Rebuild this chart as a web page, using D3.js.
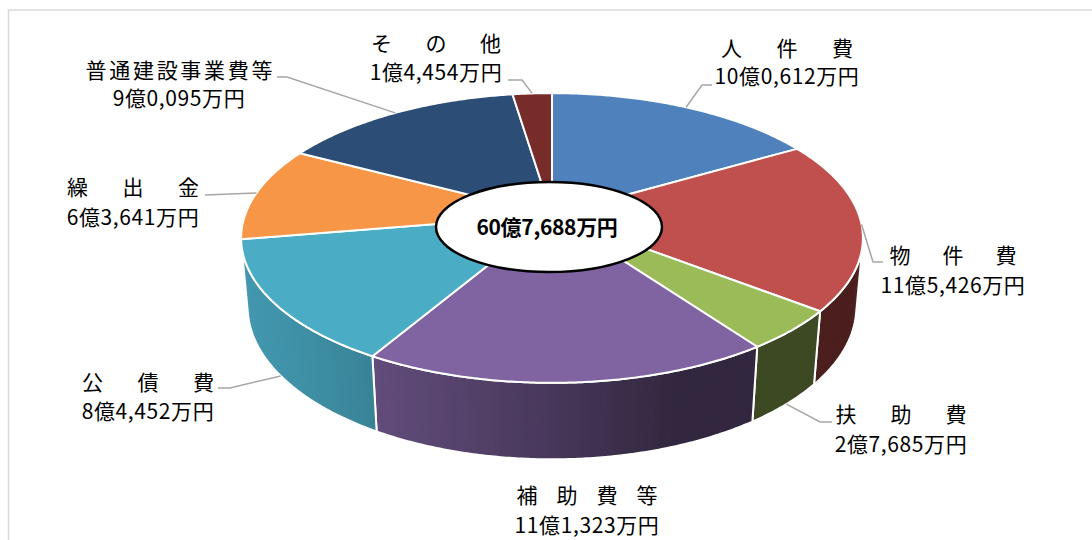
<!DOCTYPE html>
<html>
<head>
<meta charset="utf-8">
<script src="https://cdn.jsdelivr.net/npm/d3@7"></script>
<style>
  body { margin: 0; background: #fff; }
  text { font-family: "Noto Sans CJK JP", "Noto Sans", sans-serif; fill: #000; }
</style>
</head>
<body>
<div class="chart"></div>
<script>

// 歳出（万円）
const categories = ["人件費", "物件費", "扶助費", "補助費等", "公債費", "繰出金", "普通建設事業費等", "その他"];
const values = [100612, 115426, 27685, 111323, 84452, 63641, 90095, 14454];
const colors = ["#4f81bd", "#c0504d", "#9bbb59", "#8064a2", "#4bacc6", "#f79646", "#2c4d75", "#772c2a"];

// label placement (screen px)
const labelLayout = [
    { x: 787, t: 56, v: 84, w: 132, anchor: "top", leader: [[702, 85], [712, 85]] },
    { x: 953, t: 263, v: 293, w: 127, anchor: "top", leader: [[873, 262], [883, 262]] },
    { x: 901, t: 422, v: 452, w: 131, anchor: "bottom", leader: [[820, 422], [832, 422]] },
    { x: 587, t: 503, v: 533, w: 141, anchor: null, leader: [] },
    { x: 148, t: 390, v: 419, w: 132, anchor: "bottom", leader: [[230, 388], [218, 388]] },
    { x: 133, t: 195, v: 225, w: 132, anchor: "top", leader: [[205, 195]] },
    { x: 179, t: 78, v: 106, w: 187, anchor: "top", leader: [[287, 77], [277, 77]] },
    { x: 436, t: 51, v: 80, w: 130, anchor: "top", leader: [[522, 80], [508, 80]] }
];

const width = 1092;
const height = 540;

const svg = d3.select(".chart")
    .append("svg")
    .attr("width", width)
    .attr("height", height);

// chart frame
svg.append("rect")
    .attr("x", 8.5)
    .attr("y", 10)
    .attr("width", width)
    .attr("height", height)
    .attr("fill", "none")
    .attr("stroke", "#d9d9d9")
    .attr("stroke-width", 1.5);

// perspective projection of a tilted disc
const CX = 552, CY = 215;
const D = 5.6, F = 1719;
const sinP = 0.46, cosP = 0.888;
const DEPTH = 0.255;

function proj(a, h) {
    const u = Math.sin(a), v = Math.cos(a);
    const yu = v * sinP + h * cosP;
    const z = D + v * cosP - h * sinP;
    return [CX + F * u / z, CY - F * yu / z];
}

function shade(c, a) {
    const f = 0.39 + Math.max(0, -0.456 * Math.sin(a) - 0.164 * Math.cos(a));
    const col = d3.rgb(c);
    return d3.rgb(col.r * f, col.g * f, col.b * f).formatHex();
}

const pie = d3.pie().sort(null).value(d => d)(values);

const line = d3.line();
const step = Math.PI / 360;

function arcPoints(a0, a1, h) {
    const n = Math.max(2, Math.ceil((a1 - a0) / step));
    return d3.range(n + 1).map(i => proj(a0 + (a1 - a0) * i / n, h));
}

// visible side range
const lim = Math.acos(-1 / (D * cosP));
const visLo = lim, visHi = 2 * Math.PI - lim;

const walls = svg.append("g");
pie.forEach((p, i) => {
    const a0 = Math.max(p.startAngle, visLo);
    const a1 = Math.min(p.endAngle, visHi);
    if (a0 >= a1) return;
    const n = Math.ceil((a1 - a0) / (Math.PI / 180));
    const seg = (a1 - a0) / n;
    for (let k = 0; k < n; k++) {
        const s = a0 + seg * k;
        // overlap into next piece so no seams show
        const e = Math.min(a1, s + seg * 1.8);
        walls.append("path")
            .attr("d", line(arcPoints(s, e, 0).concat(arcPoints(s, e, -DEPTH).reverse())) + "Z")
            .attr("fill", shade(colors[i], s + seg / 2));
    }
    const outline = arcPoints(a0, a1, 0).concat(arcPoints(a0, a1, -DEPTH).reverse());
    walls.append("path")
        .attr("d", line(outline) + "Z")
        .attr("fill", "none")
        .attr("stroke", "#fff")
        .attr("stroke-width", 2)
        .attr("stroke-linejoin", "round");
});

// top faces
svg.append("g")
    .selectAll("path")
    .data(pie)
    .enter()
    .append("path")
    .attr("d", p => line([[CX, CY]].concat(arcPoints(p.startAngle, p.endAngle, 0))) + "Z")
    .attr("fill", (p, i) => colors[i])
    .attr("stroke", "#fff")
    .attr("stroke-width", 2)
    .attr("stroke-linejoin", "round");

function fmt(v) {
    const oku = Math.floor(v / 10000);
    const man = String(v % 10000).padStart(4, "0");
    return oku + "億" + man[0] + "," + man.slice(1) + "万円";
}

// leader lines
pie.forEach((p, i) => {
    const L = labelLayout[i];
    if (!L.anchor) return;
    const mid = (p.startAngle + p.endAngle) / 2;
    const start = proj(mid, L.anchor === "top" ? 0 : -DEPTH);
    svg.append("path")
        .attr("d", line([start].concat(L.leader)))
        .attr("fill", "none")
        .attr("stroke", "#a6a6a6")
        .attr("stroke-width", 1.5);
});

// labels
const labels = svg.append("g");
categories.forEach((name, i) => {
    const L = labelLayout[i];
    labels.append("text")
        .attr("x", L.x)
        .attr("y", L.t)
        .attr("text-anchor", "middle")
        .attr("font-size", 21)
        .attr("textLength", L.w)
        .attr("lengthAdjust", "spacing")
        .text(name);
    labels.append("text")
        .attr("x", L.x)
        .attr("y", L.v)
        .attr("text-anchor", "middle")
        .attr("font-size", 21)
        .attr("letter-spacing", 0.6)
        .text(fmt(values[i]));
});

// total
svg.append("ellipse")
    .attr("cx", 549)
    .attr("cy", 227)
    .attr("rx", 113)
    .attr("ry", 45)
    .attr("fill", "#fff")
    .attr("stroke", "#000")
    .attr("stroke-width", 2.5);

svg.append("text")
    .attr("x", 547)
    .attr("y", 235)
    .attr("text-anchor", "middle")
    .attr("font-size", 21)
    .attr("font-weight", "bold")
    .attr("letter-spacing", -0.3)
    .text(fmt(d3.sum(values)));

</script>
</body>
</html>
